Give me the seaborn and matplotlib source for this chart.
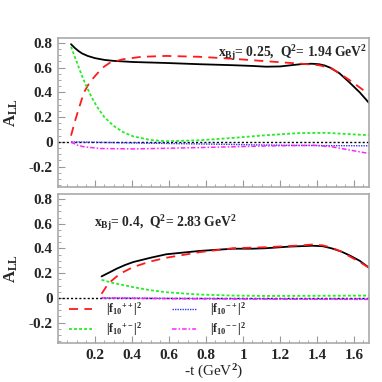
import numpy as np
import matplotlib
matplotlib.use("Agg")
import matplotlib.pyplot as plt
import seaborn as sns
from matplotlib.ticker import MultipleLocator

# ---- data (x = -t in GeV^2) ----
# top panel: x_Bj = 0.25, Q^2 = 1.94 GeV^2
top_t_all = [0.07, 0.09, 0.11, 0.13, 0.16, 0.2, 0.25, 0.3, 0.405, 0.585, 0.765, 0.945, 1.05, 1.125,
             1.2, 1.26, 1.31, 1.37, 1.41, 1.44, 1.47, 1.52, 1.575, 1.63, 1.68]
top_all = [0.79, 0.76, 0.735, 0.715, 0.695, 0.677, 0.663, 0.655, 0.646, 0.638, 0.628, 0.62, 0.614, 0.608,
           0.61, 0.62, 0.628, 0.632, 0.628, 0.618, 0.6, 0.555, 0.48, 0.40, 0.315]

top_t_pp = [0.07, 0.09, 0.11, 0.14, 0.17, 0.21, 0.25, 0.28, 0.35, 0.45, 0.585, 0.765, 0.945, 1.125,
            1.305, 1.41, 1.48, 1.575, 1.68]
top_pp = [0.05, 0.16, 0.26, 0.40, 0.48, 0.55, 0.61, 0.64, 0.668, 0.688, 0.695, 0.688, 0.672, 0.652,
          0.633, 0.62, 0.593, 0.50, 0.385]

top_t_pm = [0.07, 0.1, 0.125, 0.15, 0.18, 0.21, 0.25, 0.3, 0.35, 0.405, 0.5, 0.585, 0.765, 0.945,
            1.125, 1.305, 1.45, 1.575, 1.68]
top_pm = [0.77, 0.65, 0.55, 0.46, 0.365, 0.285, 0.2, 0.13, 0.08, 0.045, 0.015, 0.005, 0.013, 0.032,
          0.054, 0.071, 0.073, 0.062, 0.054]

top_t_mp = [0.07, 0.3, 0.585, 0.9, 1.125, 1.4, 1.68]
top_mp = [0.0, -0.006, -0.013, -0.02, -0.026, -0.03, -0.032]

top_t_mm = [0.07, 0.1, 0.14, 0.23, 0.405, 0.585, 0.765, 0.945, 1.125, 1.39, 1.48, 1.575, 1.68]
top_mm = [0.0, -0.025, -0.04, -0.054, -0.057, -0.052, -0.046, -0.04, -0.033, -0.028, -0.04, -0.066, -0.094]

# bottom panel: x_Bj = 0.4, Q^2 = 2.83 GeV^2
bot_t_all = [0.235, 0.28, 0.316, 0.36, 0.406, 0.5, 0.585, 0.765, 0.945, 1.05, 1.125, 1.25, 1.375,
             1.43, 1.48, 1.53, 1.575, 1.63, 1.68]
bot_all = [0.174, 0.208, 0.236, 0.265, 0.29, 0.325, 0.353, 0.38, 0.398, 0.398, 0.402, 0.415, 0.422,
           0.418, 0.40, 0.375, 0.344, 0.30, 0.244]

bot_t_pp = [0.235, 0.26, 0.28, 0.334, 0.406, 0.5, 0.585, 0.765, 0.945, 1.125, 1.305, 1.375, 1.43,
            1.48, 1.53, 1.575, 1.63, 1.68]
bot_pp = [0.033, 0.09, 0.127, 0.195, 0.25, 0.295, 0.325, 0.37, 0.402, 0.41, 0.424, 0.432, 0.425,
          0.405, 0.375, 0.336, 0.29, 0.244]

bot_t_pm = [0.235, 0.3, 0.406, 0.5, 0.585, 0.765, 0.945, 1.125, 1.4, 1.68]
bot_pm = [0.146, 0.12, 0.087, 0.062, 0.046, 0.027, 0.019, 0.016, 0.017, 0.019]

bot_t_mp = [0.235, 0.6, 1.0, 1.4, 1.68]
bot_mp = [0.0, -0.004, -0.006, -0.008, -0.009]

bot_t_mm = [0.235, 0.6, 1.0, 1.4, 1.68]
bot_mm = [0.0, -0.006, -0.009, -0.011, -0.012]

x_ticks = [0.2, 0.4, 0.6, 0.8, 1.0, 1.2, 1.4, 1.6]
x_ticklabels = ["0.2", "0.4", "0.6", "0.8", "1", "1.2", "1.4", "1.6"]
y_ticks = [-0.2, 0, 0.2, 0.4, 0.6, 0.8]
y_ticklabels = ["-0.2", "0", "0.2", "0.4", "0.6", "0.8"]

labels = [r"$|f_{10}{}^{++}|^2$", r"$|f_{10}{}^{+-}|^2$", r"$|f_{10}{}^{-+}|^2$", r"$|f_{10}{}^{--}|^2$"]

sns.set_style("ticks")
plt.rcParams["font.family"] = ["Liberation Serif", "DejaVu Serif"]
plt.rcParams["font.weight"] = "bold"
plt.rcParams["mathtext.fontset"] = "custom"
plt.rcParams["mathtext.rm"] = "Liberation Serif:bold"
plt.rcParams["mathtext.it"] = "Liberation Serif:bold"
plt.rcParams["mathtext.bf"] = "Liberation Serif:bold"

fig = plt.figure(figsize=(3.82, 3.82), dpi=100)
ax_top = fig.add_axes([0.152, 0.5105, 0.814, 0.39])
ax_bot = fig.add_axes([0.152, 0.102, 0.814, 0.39])

styles = {
    "all": dict(color="black", lw=1.3, ls="-"),
    "pp": dict(color="#ff1a1a", lw=1.3, ls=(0, (5, 3.5))),
    "pm": dict(color="#22ee22", lw=1.3, ls=(0, (1.6, 1.2))),
    "mp": dict(color="#3333ff", lw=1.0, ls=(0, (1, 0.8))),
    "mm": dict(color="#ff22ff", lw=1.1, ls=(0, (3, 1.3, 1, 1.3))),
}


def draw_panel(ax, series, note, note_xy, show_xlabels):
    ax.axhline(0, color="black", lw=1.0, ls=(0, (1.5, 1.5)), zorder=1)
    for key, (t, y) in series.items():
        sns.lineplot(x=t, y=y, ax=ax, sort=False, estimator=None, **styles[key])
    ax.set_xlim(0, 1.68)
    ax.set_ylim(-0.365, 0.84)
    ax.set_xticks(x_ticks)
    ax.xaxis.set_minor_locator(MultipleLocator(0.05))
    ax.set_yticks(y_ticks)
    ax.set_yticklabels(y_ticklabels, fontsize=11)
    ax.yaxis.set_minor_locator(MultipleLocator(0.05))
    if show_xlabels:
        ax.set_xticklabels(x_ticklabels, fontsize=11)
        ax.set_xlabel(r"-t (GeV$^2$)", fontsize=11, labelpad=1)
    else:
        ax.set_xticklabels([])
    ax.tick_params(which="major", direction="in", length=5, color="#999999", pad=4)
    ax.tick_params(which="minor", direction="in", length=2.5, color="#999999")
    for sp in ax.spines.values():
        sp.set_color("#aaaaaa")
        sp.set_linewidth(1.2)
    ax.set_ylabel(r"$\mathrm{A_{LL}}$", fontsize=12, labelpad=6)
    ax.text(note_xy[0], note_xy[1], note, transform=ax.transAxes, fontsize=9.8, ha=note_xy[2])


draw_panel(ax_top,
           {"all": (top_t_all, top_all), "pp": (top_t_pp, top_pp), "pm": (top_t_pm, top_pm),
            "mp": (top_t_mp, top_mp), "mm": (top_t_mm, top_mm)},
           r"x$_{\mathrm{Bj}}$= 0.25,  Q$^2$= 1.94 GeV$^2$", (0.995, 0.87, "right"), False)
draw_panel(ax_bot,
           {"all": (bot_t_all, bot_all), "pp": (bot_t_pp, bot_pp), "pm": (bot_t_pm, bot_pm),
            "mp": (bot_t_mp, bot_mp), "mm": (bot_t_mm, bot_mm)},
           r"x$_{\mathrm{Bj}}$= 0.4,  Q$^2$= 2.83 GeV$^2$", (0.115, 0.78, "left"), True)

handles = [plt.Line2D([], [], **styles[k]) for k in ["pp", "pm", "mp", "mm"]]
ax_bot.legend(handles, labels, ncol=2, frameon=False,
              loc="lower left", bbox_to_anchor=(0.0, -0.04), fontsize=8.5, handlelength=2.0,
              handletextpad=1.2, columnspacing=2.5, labelspacing=0.2)

fig.savefig("out.png", dpi=100)
